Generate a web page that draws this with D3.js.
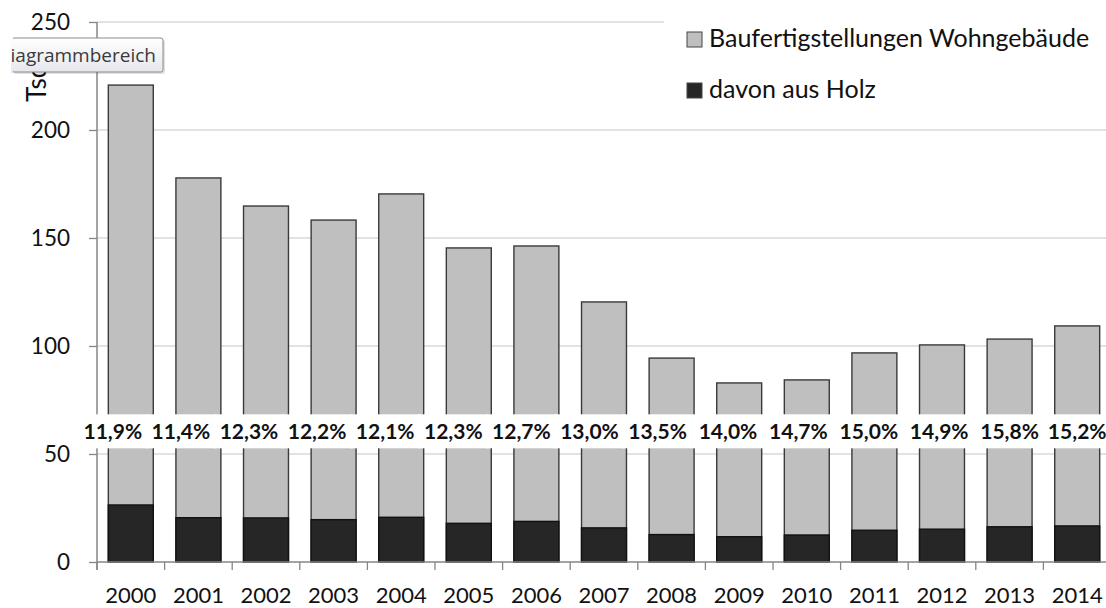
<!DOCTYPE html>
<html>
<head>
<meta charset="utf-8">
<script src="https://cdn.jsdelivr.net/npm/d3@7"></script>
<style>
  html, body { margin: 0; padding: 0; background: #fff; }
  svg { display: block; }
</style>
</head>
<body>
<svg id="chart" width="1106" height="608"></svg>
<script>
// ---- data ----
const years = ["2000","2001","2002","2003","2004","2005","2006","2007","2008","2009","2010","2011","2012","2013","2014"];
const totalBuildings = [220.8, 177.8, 164.8, 158.3, 170.4, 145.4, 146.3, 120.4, 94.4, 82.9, 84.3, 96.8, 100.5, 103.2, 109.3];
const woodBuildings = [26.4, 20.5, 20.4, 19.6, 20.7, 17.9, 18.8, 15.8, 12.7, 11.7, 12.5, 14.7, 15.2, 16.3, 16.7];
const woodShareLabels = ["11,9%","11,4%","12,3%","12,2%","12,1%","12,3%","12,7%","13,0%","13,5%","14,0%","14,7%","15,0%","14,9%","15,8%","15,2%"];
const yTicks = [0, 50, 100, 150, 200, 250];
const seriesNames = ["Baufertigstellungen Wohngebäude", "davon aus Holz"];
const yTitle = "Tsd.";
const tooltipText = "Diagrammbereich";

// ---- layout ----
const W = 1106, H = 608;
const plotLeft = 97, plotRight = 1111, plotTop = 22, plotBottom = 562;
const colGray = "#bfbfbf", colDark = "#262626";
const font = "Lato, 'Open Sans', sans-serif";

const svg = d3.select("#chart");

const x = d3.scaleBand().domain(years).range([plotLeft, plotRight])
  .paddingInner(0.335).paddingOuter(0.1675);
const y = d3.scaleLinear().domain([0, 250]).range([plotBottom, plotTop]);
const step = x.step();

// gridlines
svg.append("g").selectAll("line").data(yTicks.filter(d => d > 0)).join("line")
  .attr("x1", plotLeft).attr("x2", W)
  .attr("y1", d => y(d)).attr("y2", d => y(d))
  .attr("stroke", "#d9d9d9").attr("stroke-width", 1.3);

// total bars
svg.append("g").selectAll("rect").data(years).join("rect")
  .attr("x", d => x(d)).attr("width", x.bandwidth())
  .attr("y", (d, i) => y(totalBuildings[i]))
  .attr("height", (d, i) => y(0) - y(totalBuildings[i]))
  .attr("fill", colGray).attr("stroke", "#3a3a3a").attr("stroke-width", 1.4);

// wood bars
svg.append("g").selectAll("rect").data(years).join("rect")
  .attr("x", d => x(d)).attr("width", x.bandwidth())
  .attr("y", (d, i) => y(woodBuildings[i]))
  .attr("height", (d, i) => y(0) - y(woodBuildings[i]))
  .attr("fill", colDark).attr("stroke", "#111").attr("stroke-width", 1.4);

// y axis
const yAxis = svg.append("g").attr("transform", `translate(${plotLeft},0)`)
  .call(d3.axisLeft(y).tickValues(yTicks).tickSize(8).tickPadding(19).tickFormat(d3.format("d")));
yAxis.select(".domain").attr("stroke", "#868686").attr("stroke-width", 1.5)
  .attr("d", `M0,${plotTop}V${plotBottom + 8}`);
yAxis.selectAll(".tick line").attr("stroke", "#868686").attr("stroke-width", 1.3);
yAxis.selectAll(".tick text").attr("font-family", font).attr("font-size", 22.5).attr("fill", "#111");

// x axis
const xAxis = svg.append("g").attr("transform", `translate(0,${plotBottom})`)
  .call(d3.axisBottom(x).tickSize(0));
xAxis.select(".domain").attr("stroke", "#868686").attr("stroke-width", 1.5)
  .attr("d", `M${plotLeft},0H${W}`);
xAxis.selectAll(".tick text").attr("font-family", font).attr("font-size", 22)
  .attr("fill", "#111").attr("y", 41).attr("dy", 0);
// boundary ticks
xAxis.append("g").selectAll("line").data(d3.range(years.length + 1)).join("line")
  .attr("x1", i => plotLeft + i * step).attr("x2", i => plotLeft + i * step)
  .attr("y1", 0).attr("y2", 8)
  .attr("stroke", "#868686").attr("stroke-width", 1.3);

// data labels (manually nudged in the original)
const nudge = d3.scaleLinear().domain([0, 8, 13, 14]).range([-18, -14, 0, 0]);
const labelY = y(60.5);
const lg = svg.append("g");
woodShareLabels.forEach((t, i) => {
  const cx = x(years[i]) + x.bandwidth() / 2 + nudge(i);
  const g = lg.append("g");
  const txt = g.append("text").attr("x", cx).attr("y", labelY).attr("dy", "0.36em")
    .attr("text-anchor", "middle").attr("font-family", font).attr("font-weight", 700)
    .attr("font-size", 21).attr("fill", "#111").text(t);
  const bb = txt.node().getBBox();
  g.insert("rect", "text").attr("x", bb.x - 6).attr("y", labelY - 17)
    .attr("width", bb.width + 12).attr("height", 34).attr("fill", "#fff");
});

// legend
const leg = svg.append("g");
leg.append("rect").attr("x", 664).attr("y", 0).attr("width", W - 664).attr("height", 110).attr("fill", "#fff");
[colGray, colDark].forEach((c, i) => {
  const yy = 32 + i * 51;
  leg.append("rect").attr("x", 687).attr("y", yy).attr("width", 15).attr("height", 15)
    .attr("fill", c).attr("stroke", "#444").attr("stroke-width", 1);
  leg.append("text").attr("x", 709).attr("y", yy + 15).attr("font-family", font)
    .attr("font-size", 25).attr("fill", "#111").text(seriesNames[i]);
});

// y axis title
svg.append("text").attr("transform", "translate(46,102) rotate(-90)")
  .attr("font-family", font).attr("font-size", 26).attr("fill", "#111").text(yTitle);

// tooltip overlay
const defs = svg.append("defs");
const grad = defs.append("linearGradient").attr("id", "tipGrad").attr("x1", 0).attr("x2", 0).attr("y1", 0).attr("y2", 1);
grad.append("stop").attr("offset", "0%").attr("stop-color", "#ffffff");
grad.append("stop").attr("offset", "100%").attr("stop-color", "#e6e7ee");
defs.append("clipPath").attr("id", "tipClip").append("rect")
  .attr("x", 12).attr("y", 38).attr("width", 151).attr("height", 34);
svg.append("rect").attr("x", 14).attr("y", 40).attr("width", 151).attr("height", 34)
  .attr("rx", 2).attr("fill", "#000").attr("opacity", 0.12);
svg.append("rect").attr("x", 12).attr("y", 38).attr("width", 151).attr("height", 34)
  .attr("rx", 2).attr("fill", "url(#tipGrad)").attr("stroke", "#8a8a8a").attr("stroke-width", 1);
svg.append("rect").attr("x", 11).attr("y", 37).attr("width", 2).attr("height", 36).attr("fill", "url(#tipGrad)");
svg.append("text").attr("clip-path", "url(#tipClip)").attr("x", 156).attr("y", 62)
  .attr("text-anchor", "end").attr("font-family", "'Open Sans', sans-serif")
  .attr("font-size", 19).attr("fill", "#3a3a3a").text(tooltipText);
</script>
</body>
</html>
